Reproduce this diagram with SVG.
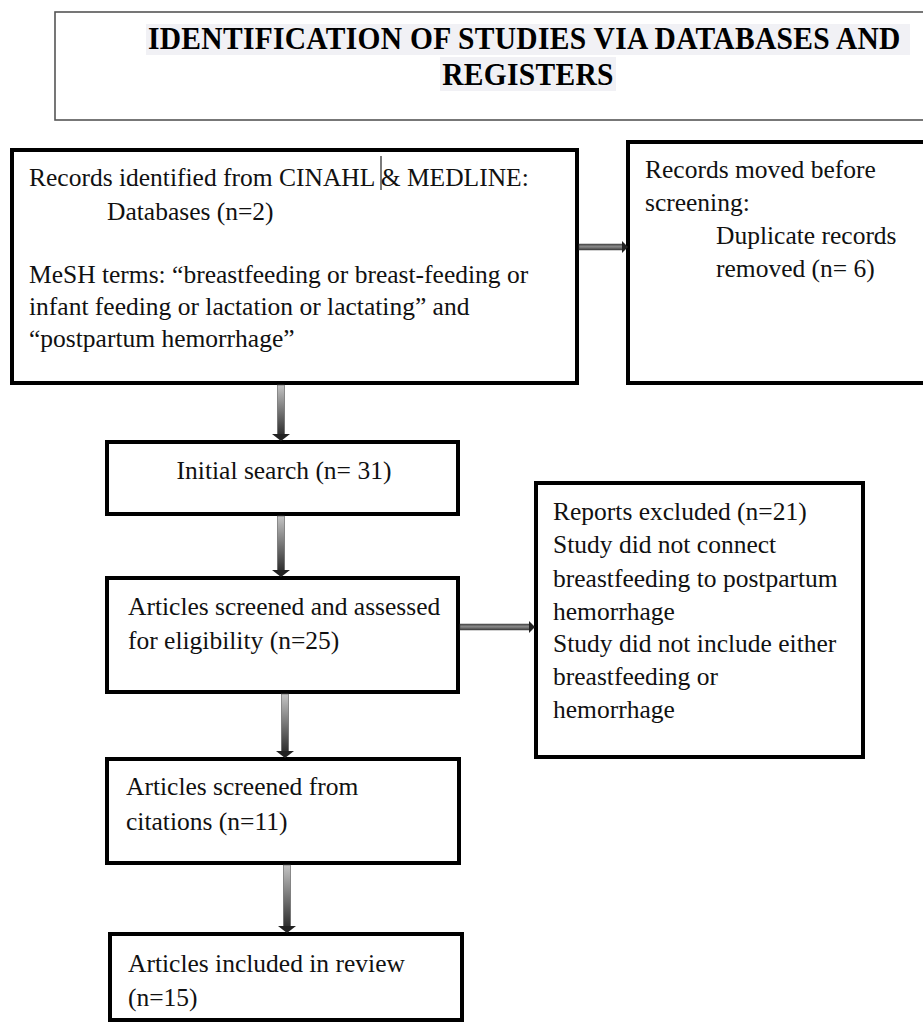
<svg xmlns="http://www.w3.org/2000/svg" width="923" height="1024" viewBox="0 0 923 1024">
<defs>
<linearGradient id="gv" x1="0" y1="0" x2="0" y2="1">
<stop offset="0" stop-color="#c4c4c4"/>
<stop offset="1" stop-color="#2e2e2e"/>
</linearGradient>
<linearGradient id="gh" x1="0" y1="0" x2="0" y2="1">
<stop offset="0" stop-color="#4a4a4a"/>
<stop offset="0.45" stop-color="#8a8a8a"/>
<stop offset="1" stop-color="#3a3a3a"/>
</linearGradient>
<style>
.box{fill:#fff;stroke:#000;stroke-width:4}
.t{font-family:"Liberation Serif","Times New Roman",serif;font-size:25.5px;fill:#111}
.title{font-family:"Liberation Serif","Times New Roman",serif;font-size:29.5px;font-weight:bold;fill:#000;letter-spacing:0.3px}
.shaftv{fill:url(#gv);stroke:#555;stroke-width:0.6}
.shafth{fill:url(#gh);stroke:#444;stroke-width:0.5}
.head{fill:#222}
</style>
</defs>
<rect width="923" height="1024" fill="#fff"/>

<g id="title">
<rect x="55" y="12" width="880" height="108" fill="#fff" stroke="#555" stroke-width="1.6"/>
<rect x="146" y="24" width="764" height="31" fill="#f1f1f5"/>
<rect x="440" y="57" width="176" height="34" fill="#f1f1f5"/>
<g transform="scale(1,1.08)">
<text class="title" x="148" y="45.4">IDENTIFICATION OF STUDIES VIA DATABASES AND</text>
<text class="title" x="528" y="78.7" text-anchor="middle">REGISTERS</text>
</g>
</g>

<g id="records">
<rect class="box" x="12" y="150" width="565" height="233"/>
<text class="t" x="29" y="186">Records identified from CINAHL &amp; MEDLINE:</text>
<line x1="381" y1="156" x2="381" y2="190" stroke="#222" stroke-width="1.2"/>
<text class="t" x="107" y="220">Databases (n=2)</text>
<text class="t" x="29" y="283">MeSH terms: “breastfeeding or breast-feeding or</text>
<text class="t" x="29" y="315">infant feeding or lactation or lactating” and</text>
<text class="t" x="29" y="347">“postpartum hemorrhage”</text>
</g>

<g id="duplicates">
<rect class="box" x="628" y="142" width="310" height="241"/>
<text class="t" x="645" y="178">Records moved before</text>
<text class="t" x="645" y="211">screening:</text>
<text class="t" x="716" y="244">Duplicate records</text>
<text class="t" x="716" y="277">removed (n= 6)</text>
</g>

<g id="initial">
<rect class="box" x="107" y="442" width="351" height="72"/>
<text class="t" x="284" y="479" text-anchor="middle">Initial search (n= 31)</text>
</g>

<g id="screened">
<rect class="box" x="107" y="578" width="351" height="114"/>
<text class="t" x="128" y="615">Articles screened and assessed</text>
<text class="t" x="128" y="649">for eligibility (n=25)</text>
</g>

<g id="excluded">
<rect class="box" x="536" y="483" width="327" height="274"/>
<text class="t" x="553" y="520">Reports excluded (n=21)</text>
<text class="t" x="553" y="553">Study did not connect</text>
<text class="t" x="553" y="587">breastfeeding to postpartum</text>
<text class="t" x="553" y="620">hemorrhage</text>
<text class="t" x="553" y="652">Study did not include either</text>
<text class="t" x="553" y="685">breastfeeding or</text>
<text class="t" x="553" y="718">hemorrhage</text>
</g>

<g id="citations">
<rect class="box" x="107" y="759" width="352" height="104"/>
<text class="t" x="126" y="795">Articles screened from</text>
<text class="t" x="126" y="830">citations (n=11)</text>
</g>

<g id="included">
<rect class="box" x="110" y="934" width="352" height="86"/>
<text class="t" x="128" y="972">Articles included in review</text>
<text class="t" x="128" y="1006">(n=15)</text>
</g>

<g id="connectors">
<rect class="shafth" x="579" y="244" width="45" height="6"/>
<polygon class="head" points="622,241 628,247 622,253"/>
<rect class="shafth" x="460" y="624" width="71" height="6"/>
<polygon class="head" points="529,621 535,627 529,633"/>
<rect class="shaftv" x="277.5" y="385" width="7" height="50"/>
<polygon class="head" points="272,434 290,434 281,441"/>
<rect class="shaftv" x="277.5" y="516" width="7" height="55"/>
<polygon class="head" points="272,570 290,570 281,577"/>
<rect class="shaftv" x="281.5" y="694" width="7" height="58"/>
<polygon class="head" points="276,751 294,751 285,758"/>
<rect class="shaftv" x="283.5" y="865" width="7" height="62"/>
<polygon class="head" points="278,926 296,926 287,933"/>
</g>
</svg>
